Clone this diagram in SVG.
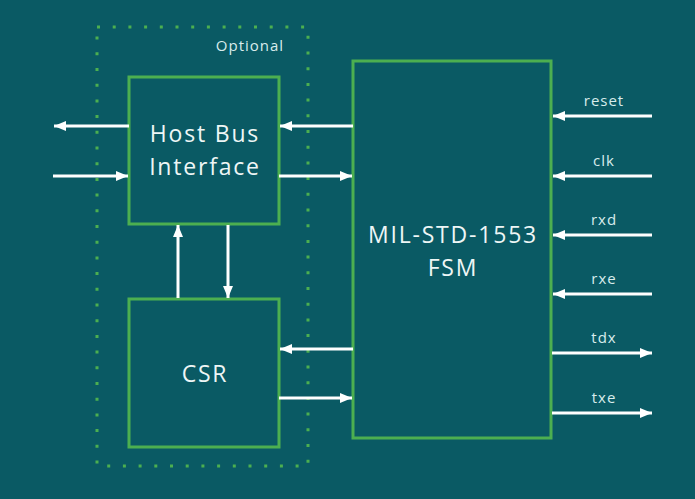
<svg xmlns="http://www.w3.org/2000/svg" width="695" height="499" viewBox="0 0 695 499">
<defs>
<marker id="ah" viewBox="0 0 12 10" refX="12" refY="5" markerWidth="12" markerHeight="10" markerUnits="userSpaceOnUse" orient="auto">
<path d="M0,0 L12,5 L0,10 Z" fill="#ffffff"/>
</marker>
</defs>
<style>
.box{fill:none;stroke:#4caf50;stroke-width:3}
.dot{fill:none;stroke:#4caf50;stroke-width:3;stroke-dasharray:3 12.7}
.c{stroke:#ffffff;stroke-width:3;fill:none;marker-end:url(#ah)}
.big{font-family:"Open Sans","DejaVu Sans",sans-serif;font-size:23px;letter-spacing:1.8px;fill:#eef6f6;text-anchor:middle}
.sm{font-family:"Open Sans","DejaVu Sans",sans-serif;font-size:15px;letter-spacing:1px;fill:#d8ecec;text-anchor:middle}
</style>
<rect width="695" height="499" fill="#0a5a64"/>
<g id="optional">
<rect class="dot" x="97" y="27" width="211" height="439"/>
<text class="sm" x="250" y="51">Optional</text>
</g>
<g id="hostbus">
<rect class="box" x="129" y="77" width="150" height="147"/>
<text class="big" x="205" y="142">Host Bus</text>
<text class="big" x="205" y="175">Interface</text>
</g>
<g id="csr">
<rect class="box" x="129" y="299" width="150" height="148"/>
<text class="big" x="205" y="382">CSR</text>
</g>
<g id="fsm">
<rect class="box" x="353" y="61" width="198" height="377"/>
<text class="big" x="453" y="243">MIL-STD-1553</text>
<text class="big" x="453" y="276">FSM</text>
</g>
<g id="connectors">
<line class="c" x1="129" y1="126" x2="54" y2="126"/>
<line class="c" x1="53" y1="176" x2="128" y2="176"/>
<line class="c" x1="353" y1="126" x2="280" y2="126"/>
<line class="c" x1="279" y1="176" x2="352" y2="176"/>
<line class="c" x1="178" y1="298" x2="178" y2="225"/>
<line class="c" x1="228" y1="225" x2="228" y2="298"/>
<line class="c" x1="353" y1="349" x2="280" y2="349"/>
<line class="c" x1="279" y1="398" x2="352" y2="398"/>
<line class="c" x1="652" y1="116" x2="553" y2="116"/>
<line class="c" x1="652" y1="176" x2="553" y2="176"/>
<line class="c" x1="652" y1="235" x2="553" y2="235"/>
<line class="c" x1="652" y1="294" x2="553" y2="294"/>
<line class="c" x1="552" y1="353" x2="652" y2="353"/>
<line class="c" x1="552" y1="413" x2="652" y2="413"/>
</g>
<g id="labels">
<text class="sm" x="604" y="106">reset</text>
<text class="sm" x="604" y="166">clk</text>
<text class="sm" x="604" y="225">rxd</text>
<text class="sm" x="604" y="284">rxe</text>
<text class="sm" x="604" y="343">tdx</text>
<text class="sm" x="604" y="403">txe</text>
</g>
</svg>
